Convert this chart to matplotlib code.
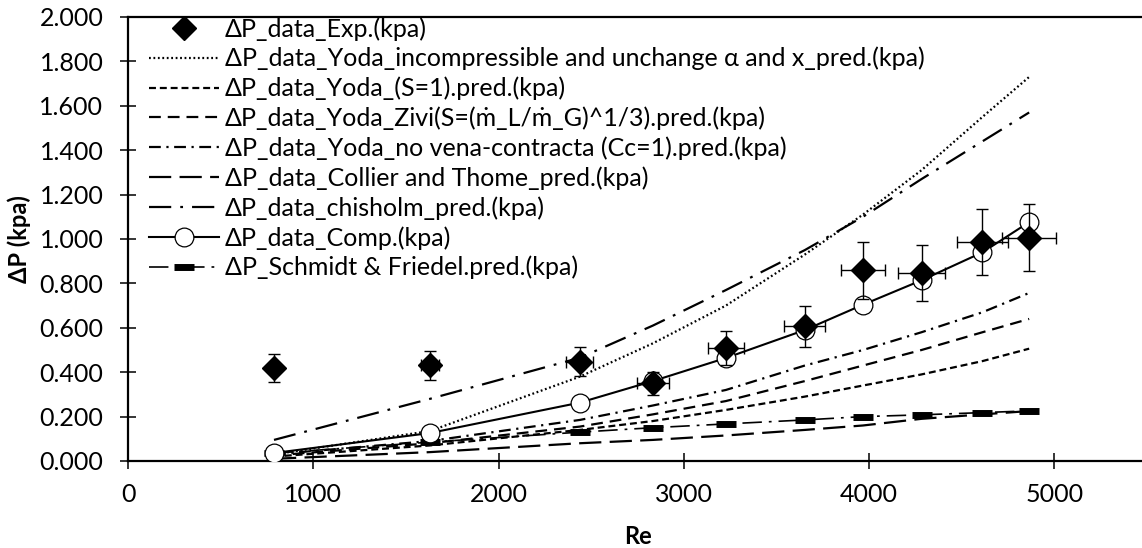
import numpy as np
import matplotlib
matplotlib.use("Agg")
import matplotlib.pyplot as plt
from matplotlib.ticker import FormatStrFormatter, MultipleLocator

plt.rcParams['font.family'] = ['Lato', 'DejaVu Sans']
plt.rcParams['lines.scale_dashes'] = False

# Reynolds numbers of the test points
re_exp = [788, 1630, 2439, 2833, 3227, 3653, 3967, 4283, 4612, 4864]
re_err = [24, 49, 73, 85, 97, 110, 119, 128, 138, 146]

# pressure drop (kPa)
dp_exp = [0.420, 0.431, 0.448, 0.350, 0.509, 0.606, 0.859, 0.847, 0.987, 1.005]
dp_exp_err = [0.063, 0.065, 0.067, 0.053, 0.076, 0.091, 0.129, 0.127, 0.148, 0.151]
dp_comp = [0.036, 0.126, 0.263, 0.360, 0.464, 0.590, 0.704, 0.814, 0.940, 1.076]
dp_incomp = [0.030, 0.135, 0.380, 0.530, 0.700, 0.930, 1.110, 1.310, 1.550, 1.730]
dp_s1 = [0.020, 0.070, 0.140, 0.180, 0.230, 0.290, 0.340, 0.390, 0.450, 0.506]
dp_zivi = [0.025, 0.080, 0.155, 0.210, 0.270, 0.360, 0.430, 0.500, 0.580, 0.640]
dp_vena = [0.030, 0.090, 0.185, 0.250, 0.320, 0.430, 0.500, 0.580, 0.670, 0.757]
dp_collier = [0.010, 0.040, 0.080, 0.095, 0.115, 0.140, 0.160, 0.190, 0.210, 0.225]
dp_chisholm = [0.095, 0.280, 0.465, 0.610, 0.770, 0.950, 1.100, 1.270, 1.440, 1.570]
dp_schmidt = [0.035, 0.085, 0.130, 0.150, 0.167, 0.185, 0.200, 0.208, 0.218, 0.226]

labels = [
    "ΔP_data_Exp.(kpa)",
    "ΔP_data_Yoda_incompressible and unchange α and x_pred.(kpa)",
    "ΔP_data_Yoda_(S=1).pred.(kpa)",
    "ΔP_data_Yoda_Zivi(S=(ṁ_L/ṁ_G)^1/3).pred.(kpa)",
    "ΔP_data_Yoda_no vena-contracta (Cc=1).pred.(kpa)",
    "ΔP_data_Collier and Thome_pred.(kpa)",
    "ΔP_data_chisholm_pred.(kpa)",
    "ΔP_data_Comp.(kpa)",
    "ΔP_Schmidt & Friedel.pred.(kpa)",
]

fig = plt.figure(figsize=(11.42, 5.48), dpi=100)
W, H = 1142, 548
ax = fig.add_axes([128 / W, 87 / H, 1019 / W, 444 / H])

lw = 1.6
h = []
h += ax.plot(re_exp, dp_exp, 'D', color='black', ms=12.5, zorder=6, label=labels[0])
ax.errorbar(re_exp, dp_exp, yerr=dp_exp_err, xerr=re_err, fmt='none', ecolor='black',
            elinewidth=1.0, capsize=4.5, capthick=1.0, zorder=5)
h += ax.plot(re_exp, dp_incomp, color='black', lw=1.6, dashes=(1.3, 1.9), label=labels[1])
h += ax.plot(re_exp, dp_s1, color='black', lw=lw, dashes=(5, 2.8), label=labels[2])
h += ax.plot(re_exp, dp_zivi, color='black', lw=lw, dashes=(8.5, 5), label=labels[3])
h += ax.plot(re_exp, dp_vena, color='black', lw=lw, dashes=(8.5, 4, 1.6, 4), label=labels[4])
h += ax.plot(re_exp, dp_collier, color='black', lw=lw, dashes=(16, 6), label=labels[5])
h += ax.plot(re_exp, dp_chisholm, color='black', lw=lw, dashes=(16, 6.5, 2, 6.5), label=labels[6])
h += ax.plot(re_exp, dp_comp, '-o', color='black', lw=1.5, ms=13.5, mfc='white', mec='black',
             mew=0.9, zorder=4, label=labels[7])
h += ax.plot(re_exp, dp_schmidt, color='black', lw=1.2, dashes=(14, 5, 2, 5), marker='_',
             ms=15, mew=5, zorder=3, label=labels[8])

ax.set_xlim(0, 5500)
ax.set_ylim(0, 2.0)
ax.xaxis.set_major_locator(MultipleLocator(1000))
ax.yaxis.set_major_locator(MultipleLocator(0.2))
ax.yaxis.set_major_formatter(FormatStrFormatter('%.3f'))
ax.tick_params(direction='inout', length=11.5, width=1.1, labelsize=18, colors='black')
ax.tick_params(axis='x', pad=10)
ax.tick_params(axis='y', pad=12)
for s in ['left', 'bottom', 'top']:
    ax.spines[s].set_linewidth(1.6)
ax.spines['right'].set_visible(False)

ax.set_xlabel("Re", fontsize=17, fontweight='bold', labelpad=14)
ax.set_ylabel("ΔP (kpa)", fontsize=17, fontweight='bold', labelpad=6)

fs = 18
fpx = fs * 100 / 72
ax.legend(handles=h, loc='upper left', bbox_to_anchor=((149 - 128) / 1019, 1.0),
          frameon=False, fontsize=fs, borderpad=0, borderaxespad=0.0,
          handlelength=70 / fpx, handletextpad=6 / fpx, labelspacing=0.25)

fig.savefig("out.png", dpi=100)
